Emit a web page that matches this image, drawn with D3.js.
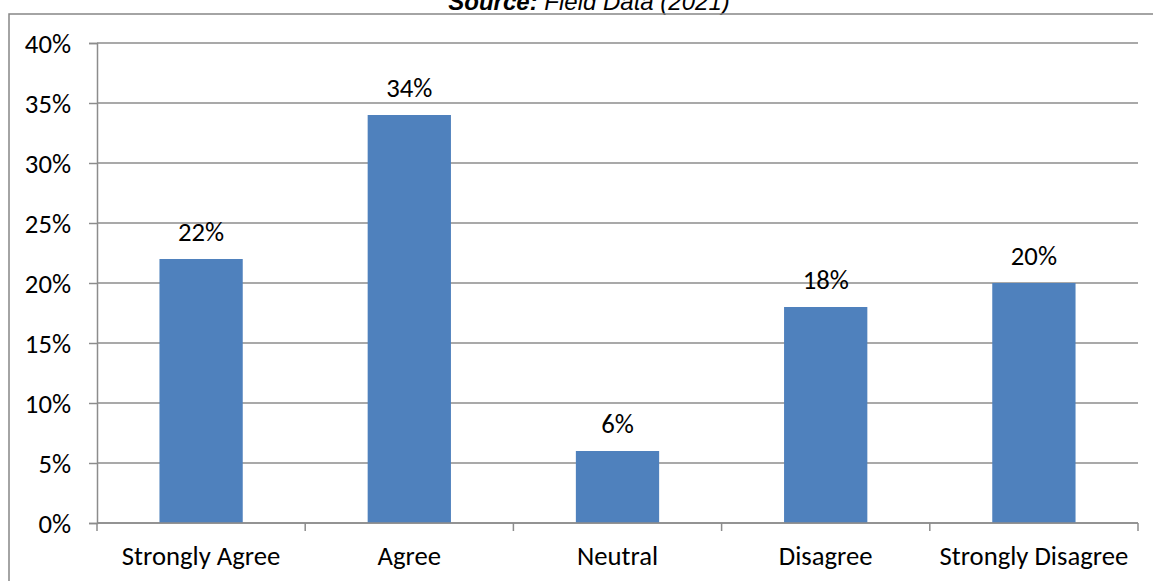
<!DOCTYPE html>
<html>
<head>
<meta charset="utf-8">
<script src="https://cdn.jsdelivr.net/npm/d3@7"></script>
<style>
  html, body { margin: 0; padding: 0; background: #fff; }
  svg { display: block; }
</style>
</head>
<body>
<svg id="chart" width="1153" height="581"></svg>
<script>
// Response categories and their shares (%)
const categories = ["Strongly Agree", "Agree", "Neutral", "Disagree", "Strongly Disagree"];
const values = [22, 34, 6, 18, 20];
const yTicks = [0, 5, 10, 15, 20, 25, 30, 35, 40];

const svg = d3.select("#chart");
const W = 1153, H = 581;
const font = "Carlito, Calibri, Lato, 'Open Sans', sans-serif";
const fontSize = "26.7px";

// Caption above the chart frame
const cap = svg.append("text")
  .attr("x", 589).attr("y", 10)
  .attr("text-anchor", "middle")
  .style("font-family", "Arial, 'Liberation Sans', sans-serif")
  .style("font-size", "24px")
  .style("font-style", "italic");
cap.append("tspan").style("font-weight", "bold").text("Source:");
cap.append("tspan").text(" Field Data (2021)");

// Chart frame
svg.append("rect")
  .attr("x", 9).attr("y", 14)
  .attr("width", W + 10).attr("height", H)
  .attr("fill", "none")
  .attr("stroke", "#868686")
  .attr("stroke-width", 1.5);

const plot = { left: 97, right: 1138, top: 43, bottom: 523 };

const x = d3.scaleBand()
  .domain(categories)
  .range([plot.left, plot.right])
  .paddingInner(0.6)
  .paddingOuter(0.3);

const y = d3.scaleLinear()
  .domain([0, 40])
  .range([plot.bottom, plot.top]);

// Horizontal gridlines
svg.append("g")
  .selectAll("line")
  .data(yTicks)
  .join("line")
  .attr("x1", plot.left).attr("x2", plot.right)
  .attr("y1", d => y(d)).attr("y2", d => y(d))
  .attr("stroke", "#8c8c8c")
  .attr("stroke-width", 1.5);

// Y axis
const yAxis = svg.append("g")
  .attr("transform", `translate(${plot.left},0)`)
  .call(d3.axisLeft(y).tickValues(yTicks).tickSize(8).tickFormat(d => d + "%"));
yAxis.select(".domain").attr("stroke", "#8c8c8c").attr("stroke-width", 1.5);
yAxis.selectAll(".tick line").attr("stroke", "#8c8c8c").attr("stroke-width", 1.5);
yAxis.selectAll(".tick text")
  .attr("x", -26)
  .attr("dy", "0.35em")
  .style("font-family", font).style("font-size", fontSize).attr("fill", "#000");

// Bars
svg.append("g")
  .selectAll("rect")
  .data(values)
  .join("rect")
  .attr("x", (d, i) => x(categories[i]))
  .attr("y", d => y(d))
  .attr("width", x.bandwidth())
  .attr("height", d => y(0) - y(d))
  .attr("fill", "#4f81bd");

// X axis baseline with ticks at category boundaries
const boundaries = d3.range(categories.length + 1).map(i => plot.left + i * (plot.right - plot.left) / categories.length);
svg.append("line")
  .attr("x1", plot.left).attr("x2", plot.right)
  .attr("y1", y(0)).attr("y2", y(0))
  .attr("stroke", "#8c8c8c").attr("stroke-width", 1.5);
svg.append("g")
  .selectAll("line")
  .data(boundaries)
  .join("line")
  .attr("x1", d => d).attr("x2", d => d)
  .attr("y1", y(0)).attr("y2", y(0) + 8)
  .attr("stroke", "#8c8c8c").attr("stroke-width", 1.5);

// Category labels
svg.append("g")
  .selectAll("text")
  .data(categories)
  .join("text")
  .attr("x", d => x(d) + x.bandwidth() / 2)
  .attr("y", y(0) + 42)
  .attr("text-anchor", "middle")
  .style("font-family", font).style("font-size", fontSize)
  .attr("fill", "#000")
  .text(d => d);

// Value labels above bars
svg.append("g")
  .selectAll("text")
  .data(values)
  .join("text")
  .attr("x", (d, i) => x(categories[i]) + x.bandwidth() / 2)
  .attr("y", d => y(d) - 18)
  .attr("text-anchor", "middle")
  .style("font-family", font).style("font-size", fontSize)
  .attr("fill", "#000")
  .text(d => d + "%");
</script>
</body>
</html>
